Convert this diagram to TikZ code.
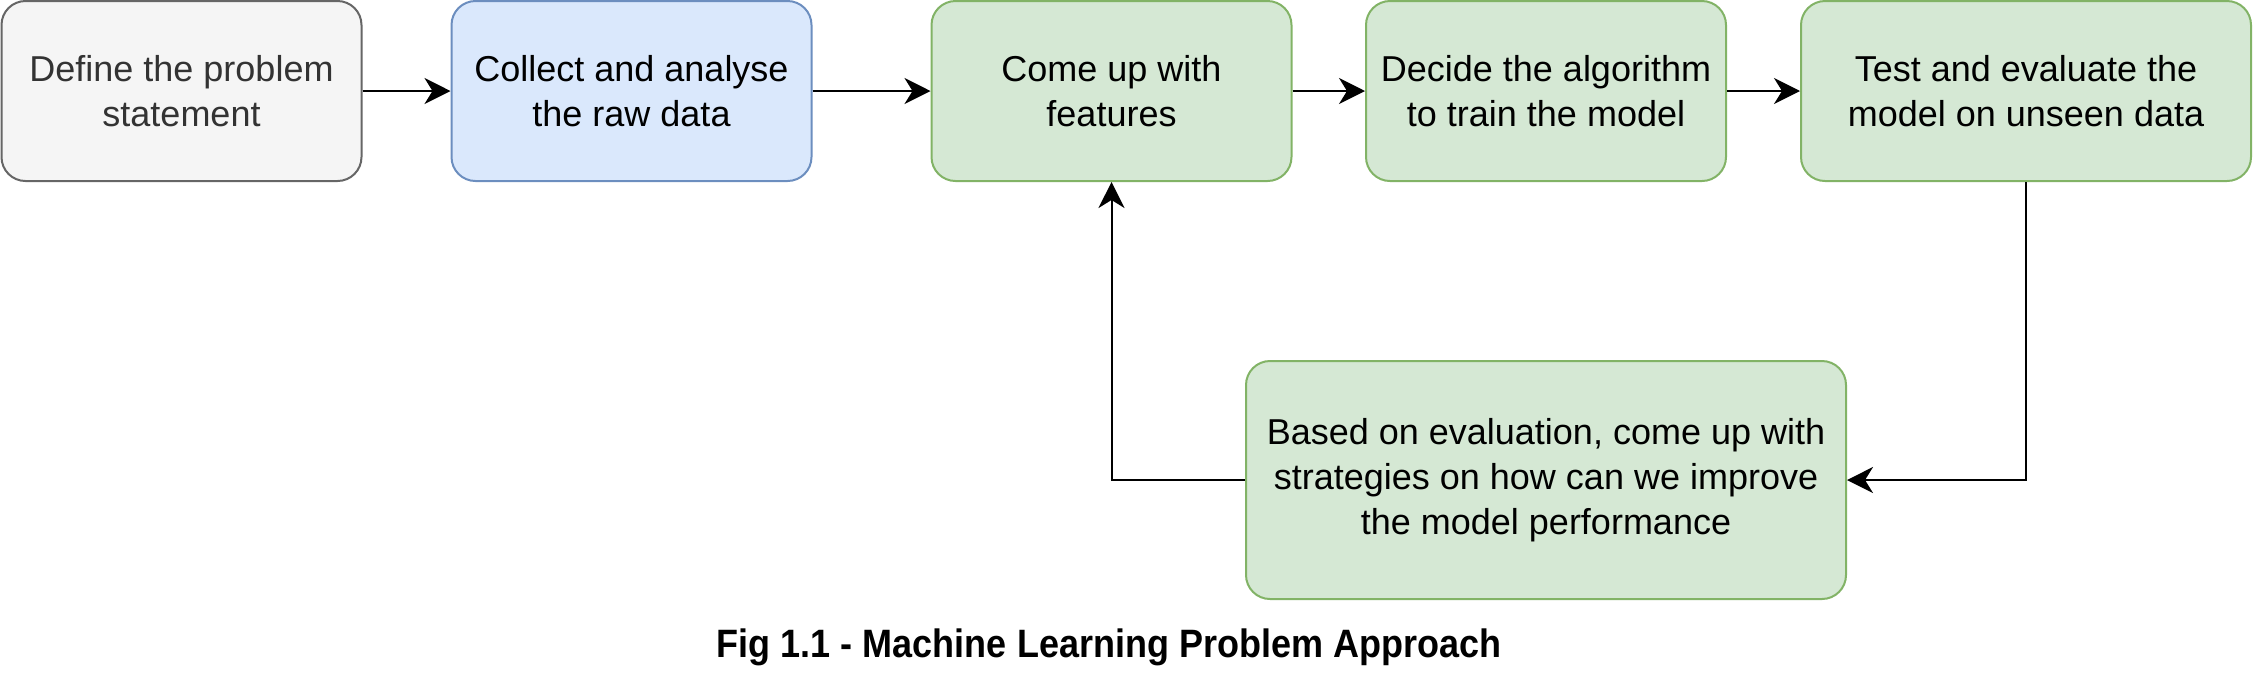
\documentclass[tikz,border=0pt]{standalone}
\usepackage{fontspec}
\setmainfont{Liberation Sans}
\usetikzlibrary{arrows.meta}

\definecolor{grayfill}{HTML}{F5F5F5}
\definecolor{graydraw}{HTML}{666666}
\definecolor{bluefill}{HTML}{DAE8FC}
\definecolor{bluedraw}{HTML}{6C8EBF}
\definecolor{greenfill}{HTML}{D5E8D4}
\definecolor{greendraw}{HTML}{82B366}

\begin{document}
\begin{tikzpicture}[x=0.5pt, y=-0.5pt]
\tikzstyle{stage}=[rectangle, rounded corners=12pt, line width=1pt, inner sep=0pt, align=center,
  font=\fontsize{18pt}{22.5pt}\selectfont, minimum height=90pt]
\tikzstyle{flow}=[line width=1pt, -{Stealth[length=13pt, width=13pt, inset=4pt]}]
\useasboundingbox (0,0) rectangle (2253,693);

\node[stage, fill=grayfill, draw=graydraw, text=black!80, minimum width=180pt] (1) at (181.5,91) {Define the problem\\statement};
\node[stage, fill=bluefill, draw=bluedraw, minimum width=180pt] (2) at (631.5,91) {Collect and analyse\\the raw data};
\node[stage, fill=greenfill, draw=greendraw, minimum width=180pt] (3) at (1111.5,91) {Come up with\\features};
\node[stage, fill=greenfill, draw=greendraw, minimum width=180pt] (4) at (1546,91) {Decide the algorithm\\to train the model};
\node[stage, fill=greenfill, draw=greendraw, minimum width=225pt] (5) at (2026,91) {Test and evaluate the\\model on unseen data};
\node[stage, fill=greenfill, draw=greendraw, minimum width=300pt, minimum height=119pt] (6) at (1546,480) {Based on evaluation, come up with\\strategies on how can we improve\\the model performance};

\node[font=\fontsize{18pt}{21pt}\selectfont\bfseries, yscale=1.1] (caption) at (1109,647) {Fig 1.1 - Machine Learning Problem Approach};

\draw[flow] (1)--(2);
\draw[flow] (2)--(3);
\draw[flow] (3)--(4);
\draw[flow] (4)--(5);
\draw[flow] (5) |- (6);
\draw[flow] (6) -| (3);

\end{tikzpicture}
\end{document}
